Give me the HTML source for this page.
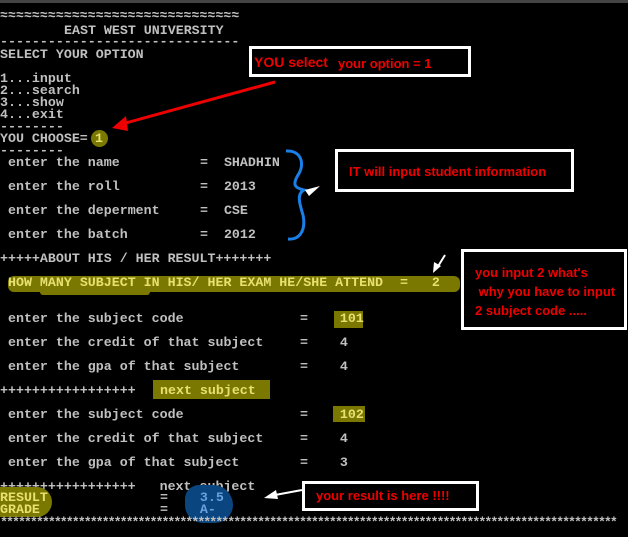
<!DOCTYPE html>
<html><head><style>
body{margin:0;width:628px;height:537px;background:#000;overflow:hidden;position:relative;font-family:"Liberation Mono",monospace;}
.t{position:absolute;font-size:13.3px;line-height:12px;color:#c0c0c0;white-space:pre;font-weight:bold;letter-spacing:0}
.y{color:#e8e070}
.b{position:absolute;border:3px solid #fff;background:#000;box-sizing:border-box}
.r{position:absolute;color:#e00;font-family:"Liberation Sans",sans-serif;font-weight:bold;font-size:13px;white-space:pre}
.h{position:absolute;background:#7a7800}
</style></head><body>
<div style="position:absolute;left:0;top:0;width:628px;height:3px;background:#444"></div>
<div class="t" style="left:0;top:10px">≈≈≈≈≈≈≈≈≈≈≈≈≈≈≈≈≈≈≈≈≈≈≈≈≈≈≈≈≈≈</div>
<div class="t" style="left:64px;top:25px">EAST WEST UNIVERSITY</div>
<div class="t" style="left:0;top:36px">------------------------------</div>
<div class="t" style="left:0;top:49px">SELECT YOUR OPTION</div>
<div class="t" style="left:0;top:73px">1...input
2...search
3...show
4...exit</div>
<div class="t" style="left:0;top:121px">--------</div>
<div class="t" style="left:0;top:133px">YOU CHOOSE=</div>
<div style="position:absolute;left:91px;top:130px;width:17px;height:17px;border-radius:50%;background:#7a7800"></div>
<div class="t y" style="left:95px;top:133px">1</div>
<div class="t" style="left:0;top:145px">--------</div>

<div class="t" style="left:8px;top:157px">enter the name</div><div class="t" style="left:200px;top:157px">=  SHADHIN</div>
<div class="t" style="left:8px;top:181px">enter the roll</div><div class="t" style="left:200px;top:181px">=  2013</div>
<div class="t" style="left:8px;top:205px">enter the deperment</div><div class="t" style="left:200px;top:205px">=  CSE</div>
<div class="t" style="left:8px;top:229px">enter the batch</div><div class="t" style="left:200px;top:229px">=  2012</div>
<div class="t" style="left:0;top:253px">+++++ABOUT HIS / HER RESULT+++++++</div>
<div class="h" style="left:8px;top:276px;width:452px;height:16px;border-radius:6px"></div>
<div class="h" style="left:40px;top:289px;width:110px;height:6px;border-radius:3px"></div>
<div class="t y" style="left:8px;top:277px">HOW MANY SUBJECT IN HIS/ HER EXAM HE/SHE ATTEND</div>
<div class="t y" style="left:400px;top:277px">=   2</div>
<div class="h" style="left:334px;top:311px;width:29px;height:17px"></div>
<div class="t" style="left:8px;top:313px">enter the subject code</div><div class="t" style="left:300px;top:313px">=    <span class="y">101</span></div>
<div class="t" style="left:8px;top:337px">enter the credit of that subject</div><div class="t" style="left:300px;top:337px">=    4</div>
<div class="t" style="left:8px;top:361px">enter the gpa of that subject</div><div class="t" style="left:300px;top:361px">=    4</div>
<div class="t" style="left:0;top:385px">+++++++++++++++++</div>
<div class="h" style="left:153px;top:380px;width:117px;height:19px"></div>
<div class="t y" style="left:160px;top:385px">next subject</div>
<div class="h" style="left:333px;top:406px;width:32px;height:16px"></div>
<div class="t" style="left:8px;top:409px">enter the subject code</div><div class="t" style="left:300px;top:409px">=    <span class="y">102</span></div>
<div class="t" style="left:8px;top:433px">enter the credit of that subject</div><div class="t" style="left:300px;top:433px">=    4</div>
<div class="t" style="left:8px;top:457px">enter the gpa of that subject</div><div class="t" style="left:300px;top:457px">=    3</div>
<div class="t" style="left:0;top:481px">+++++++++++++++++   next subject</div>
<div class="h" style="left:0;top:487px;width:52px;height:30px;border-radius:0 20px 20px 0"></div>
<div style="position:absolute;left:185px;top:485px;width:48px;height:38px;border-radius:14px 20px 18px 18px;background:#0b4580"></div>
<div class="t y" style="left:0;top:492px">RESULT</div>
<div class="t y" style="left:0;top:504px">GRADE</div>
<div class="t" style="left:160px;top:492px">=    <span style="color:#6aa0e0">3.5</span></div>
<div class="t" style="left:160px;top:504px">=    <span style="color:#6aa0e0">A-</span></div>
<div class="t" style="left:0;top:517px;letter-spacing:-2px">*******************************************************************************************************</div>

<div class="b" style="left:249px;top:46px;width:222px;height:31px"></div>
<div class="r" style="left:254px;top:54px;font-size:14px">YOU select</div>
<div class="r" style="left:338px;top:56px">your option = 1</div>
<div class="b" style="left:335px;top:149px;width:239px;height:43px"></div>
<div class="r" style="left:349px;top:164px">IT will input student information</div>
<div class="b" style="left:461px;top:249px;width:166px;height:81px"></div>
<div class="r" style="left:475px;top:263px;line-height:19px">you input 2 what's
 why you have to input
2 subject code .....</div>
<div class="b" style="left:302px;top:481px;width:177px;height:30px"></div>
<div class="r" style="left:316px;top:488px">your result is here !!!!</div>

<svg width="628" height="537" style="position:absolute;left:0;top:0">
<line x1="275" y1="82" x2="122" y2="124" stroke="#e00" stroke-width="3"/>
<polygon points="112,128 126,116 128,131" fill="#e00"/>
<path d="M286,151 C302,150 305,165 298,175 C292,185 295,188 304,190 C296,194 300,205 303,215 C306,230 300,240 288,239" fill="none" stroke="#1a7fe6" stroke-width="3"/>
<polygon points="305,190 320,186 309,196" fill="#fff"/>
<line x1="445" y1="255" x2="437" y2="268" stroke="#fff" stroke-width="2"/>
<polygon points="433,273 434,262 441,266" fill="#fff"/>
<line x1="302" y1="490" x2="275" y2="495" stroke="#fff" stroke-width="2"/>
<polygon points="264,498 276,490 278,499" fill="#fff"/>
</svg>
</body></html>
